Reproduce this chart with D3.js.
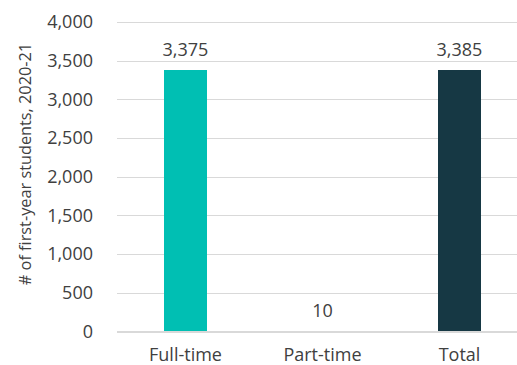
<!DOCTYPE html>
<html><head><meta charset="utf-8">
<script src="https://cdn.jsdelivr.net/npm/d3@7"></script>
<style>body{margin:0;background:#fff}svg{display:block;font-family:"Open Sans",sans-serif}</style>
</head><body><svg id="c" width="517" height="365"></svg>
<script>
const categories = ["Full-time", "Part-time", "Total"];
const values = [3375, 10, 3385];
const colors = ["#00BFB3", "#00BFB3", "#163844"];
const yTicks = [0, 500, 1000, 1500, 2000, 2500, 3000, 3500, 4000];
const yTitle = "# of first-year students, 2020-21";

const svg = d3.select("#c");
const x = d3.scaleBand().domain(categories).range([117, 528]).paddingInner(0.685).paddingOuter(0.3425);
const y = d3.scaleLinear().domain([0, 4000]).range([331.5, 22]);
const fmt = d3.format(",");
const txt = "#404040";

svg.append("g").selectAll("line").data(yTicks.filter(d => d > 0)).join("line")
  .attr("x1", 117).attr("x2", 517)
  .attr("y1", d => Math.round(y(d)) + 0.5).attr("y2", d => Math.round(y(d)) + 0.5)
  .attr("stroke", "#d9d9d9").attr("stroke-width", 1);

svg.append("g").selectAll("text").data(yTicks).join("text")
  .attr("x", 93).attr("y", d => y(d)).attr("dy", "0.35em")
  .attr("text-anchor", "end").attr("font-size", 18).attr("fill", txt)
  .text(d => fmt(d));

svg.append("text").attr("transform", "translate(25,164) rotate(-90)")
  .attr("text-anchor", "middle").attr("dy", "0.35em").attr("font-size", 16.3).attr("fill", txt)
  .text(yTitle);

svg.append("g").attr("shape-rendering", "crispEdges").selectAll("rect").data(values).join("rect")
  .attr("x", (d, i) => x(categories[i])).attr("width", x.bandwidth())
  .attr("y", d => y(d)).attr("height", d => y(0) - y(d))
  .attr("fill", (d, i) => colors[i]);

// category axis line drawn over the bars
svg.append("line").attr("x1", 117).attr("x2", 517)
  .attr("y1", Math.round(y(0))).attr("y2", Math.round(y(0)))
  .attr("stroke", "#d9d9d9").attr("stroke-width", 2).attr("shape-rendering", "crispEdges");

svg.append("g").selectAll("text").data(values).join("text")
  .attr("x", (d, i) => x(categories[i]) + x.bandwidth() / 2)
  .attr("y", d => y(d) - 14)
  .attr("text-anchor", "middle").attr("font-size", 18).attr("fill", txt)
  .text(d => fmt(d));

svg.append("g").selectAll("text").data(categories).join("text")
  .attr("x", d => x(d) + x.bandwidth() / 2).attr("y", 361)
  .attr("text-anchor", "middle").attr("font-size", 18).attr("fill", txt)
  .text(d => d);
</script></body></html>
